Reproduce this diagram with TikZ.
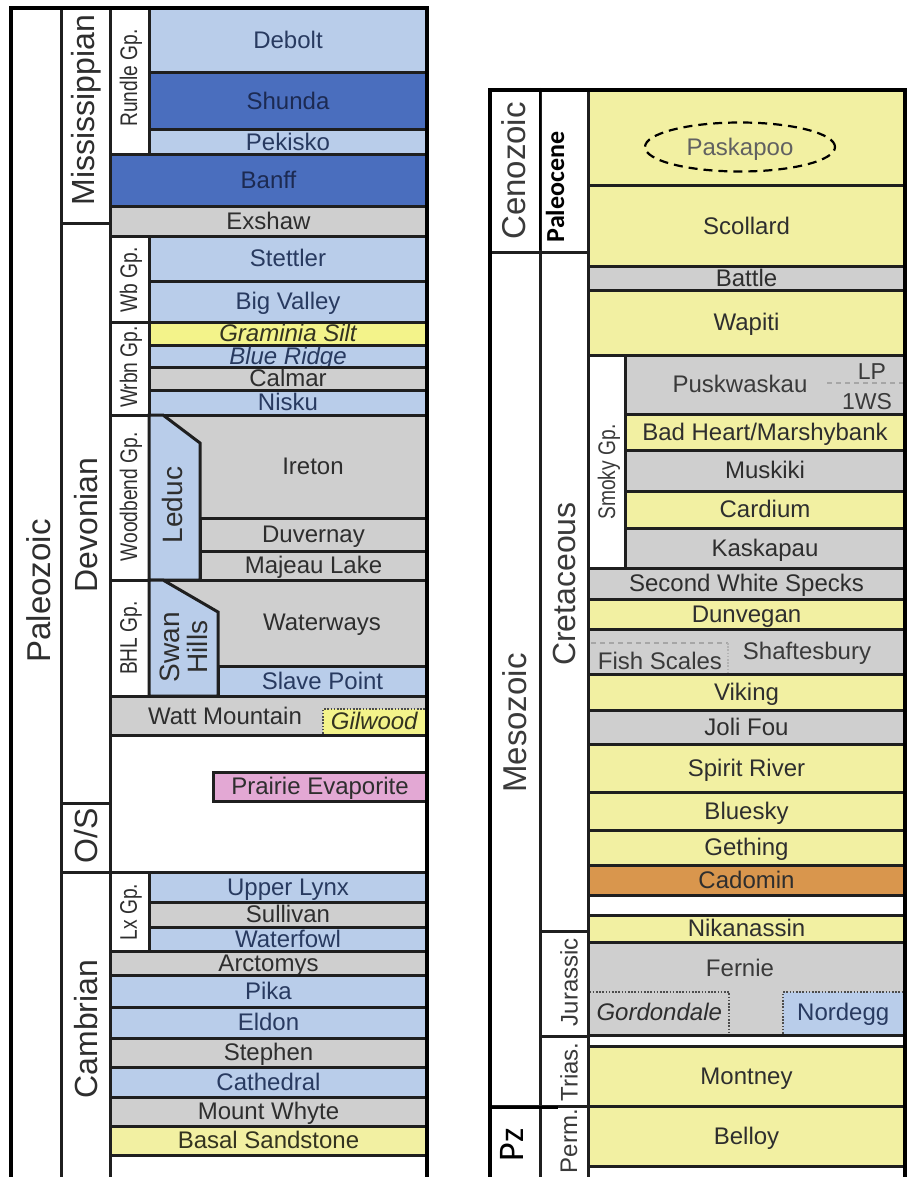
\documentclass[tikz,border=0pt]{standalone}
\usepackage{fontspec}
\setmainfont{Liberation Sans}
\newfontfamily\narrowf[FakeStretch=0.8]{Liberation Sans}
\newfontfamily\calib{Carlito}
\usetikzlibrary{shapes.geometric}
\definecolor{lblue}{HTML}{B9CDEA}
\definecolor{dblue}{HTML}{4A6EBE}
\definecolor{lgray}{HTML}{CFCFCF}
\definecolor{lyel}{HTML}{F2F0A2}
\definecolor{gyel}{HTML}{F3F38A}
\definecolor{pinkc}{HTML}{E3A8D4}
\definecolor{orangec}{HTML}{D9964D}
\definecolor{linec}{HTML}{1F1F1F}
\definecolor{rlinec}{HTML}{252525}
\definecolor{txt}{HTML}{2E2E2E}
\definecolor{rtxt}{HTML}{3A3A3A}
\definecolor{btxt}{HTML}{283A60}
\definecolor{dbtxt}{HTML}{1C2A52}
\definecolor{ytxt}{HTML}{333320}
\newcommand\lay[8][]{%
  \pgfmathsetmacro\lyw{#6-#4}%
  \pgfmathsetmacro\lyh{#7-#5}%
  \node[layer,fill=#3,minimum width=\lyw pt,minimum height=\lyh pt,#1] (#2) at (#4,#5) {#8};}
\begin{document}
\begin{tikzpicture}[x=1pt,y=-1pt,
  layer/.style={draw=linec,line width=3pt,inner sep=0pt,outer sep=0pt,anchor=north west,
    text=txt,font=\fontsize{24}{26}\selectfont,text height=17pt,text depth=1pt},
  vlab/.style={rotate=90,text=txt,font=\fontsize{32}{32}\selectfont,inner sep=0pt},
  elab/.style={vlab,font=\fontsize{33}{33}\selectfont},
  glab/.style={rotate=90,text=txt,font=\narrowf\fontsize{24}{24}\selectfont,inner sep=0pt},
  rlab/.style={rotate=90,text=rtxt,font=\fontsize{24}{24}\selectfont,inner sep=0pt},
  flab/.style={text=txt,font=\fontsize{24}{26}\selectfont,inner sep=0pt,text height=17pt,text depth=1pt},
  frame/.style={draw=black,line width=4.5pt},
  dotb/.style={draw=linec!80,line width=1.2pt,dash pattern=on 1.6pt off 1.6pt},
  dashg/.style={draw=gray!70,line width=1.2pt,dash pattern=on 5pt off 4pt}]
\useasboundingbox (0,0) rectangle (909,1177);
\clip (0,0) rectangle (909,1177);
\fill[white] (0,0) rectangle (909,1177);
% ---------------- left column ----------------
\lay{paleo}{white}{11}{8}{61}{1195}{}
\lay{missi}{white}{61}{8}{110}{223}{}
\lay{devon}{white}{61}{223}{110}{803.5}{}
\lay{os}{white}{61}{803.5}{110}{872}{}
\lay{camb}{white}{61}{872}{110}{1195}{}
\lay{rundle}{white}{110}{8}{149}{155}{}
\lay[text=btxt]{debolt}{lblue}{149}{8}{427}{73}{Debolt}
\lay[text=dbtxt]{shunda}{dblue}{149}{73}{427}{130}{Shunda}
\lay[text=btxt]{pekisko}{lblue}{149}{130}{427}{155}{Pekisko}
\lay[text=dbtxt]{banff}{dblue}{110}{155}{427}{206}{Banff}
\lay{exshaw}{lgray}{110}{206}{427}{236}{Exshaw}
\lay{wbgp}{white}{110}{236}{149}{322}{}
\lay[text=btxt]{stettler}{lblue}{149}{236}{427}{281}{Stettler}
\lay[text=btxt]{bigvalley}{lblue}{149}{281}{427}{322}{Big Valley}
\lay{wrbn}{white}{110}{322}{149}{415}{}
\lay[text=ytxt]{graminia}{gyel}{149}{322}{427}{345}{\itshape Graminia Silt}
\lay[text=btxt]{blueridge}{lblue}{149}{345}{427}{367}{\itshape Blue Ridge}
\lay{calmar}{lgray}{149}{367}{427}{390}{Calmar}
\lay[text=btxt]{nisku}{lblue}{149}{390}{427}{415}{Nisku}
\lay{woodbend}{white}{110}{415}{149}{580}{}
\lay{ireton}{lgray}{149}{415}{427}{518}{}
\lay{duvernay}{lgray}{200}{518}{427}{551}{Duvernay}
\lay{majeau}{lgray}{200}{551}{427}{580}{Majeau Lake}
\draw[draw=linec,line width=3pt,fill=lblue,line join=miter] (149,415) -- (163,415) -- (200,443) -- (200,580) -- (149,580) -- cycle;
\lay{bhl}{white}{110}{580}{149}{696}{}
\lay{waterways}{lgray}{149}{580}{427}{666}{}
\lay[text=btxt]{slave}{lblue}{218}{666}{427}{696}{Slave Point}
\draw[draw=linec,line width=3pt,fill=lblue,line join=miter] (149,580) -- (163,580) -- (218,612) -- (218,696) -- (149,696) -- cycle;
\lay{watt}{lgray}{110}{696}{427}{735}{}
\lay[draw=none,text=ytxt]{gilwood}{gyel}{323}{709}{425.5}{733.5}{\itshape Gilwood}
\draw[dotb] (gilwood.south west) -- (gilwood.north west) -- (gilwood.north east);
\lay{blank1}{white}{110}{735}{427}{872}{}
\lay{prairie}{pinkc}{213}{772}{427}{801}{Prairie Evaporite}
\lay{lx}{white}{110}{872}{149}{951}{}
\lay[text=btxt]{upperlynx}{lblue}{149}{872}{427}{902}{Upper Lynx}
\lay{sullivan}{lgray}{149}{902}{427}{927}{Sullivan}
\lay[text=btxt]{waterfowl}{lblue}{149}{927}{427}{951}{Waterfowl}
\lay{arctomys}{lgray}{110}{951}{427}{975}{Arctomys}
\lay[text=btxt]{pika}{lblue}{110}{975}{427}{1007}{Pika}
\lay[text=btxt]{eldon}{lblue}{110}{1007}{427}{1038}{Eldon}
\lay{stephen}{lgray}{110}{1038}{427}{1067}{Stephen}
\lay[text=btxt]{cathedral}{lblue}{110}{1067}{427}{1097}{Cathedral}
\lay{whyte}{lgray}{110}{1097}{427}{1126}{Mount Whyte}
\lay[text=ytxt]{basal}{lyel}{110}{1126}{427}{1155}{Basal Sandstone}
\lay{blank2}{white}{110}{1155}{427}{1195}{}
% texts not centred in their box
\node[flab] (iretonT) at (313,466) {Ireton};
\node[flab] (waterT) at (322,622) {Waterways};
\node[flab] (wattT) at (225,716) {Watt Mountain};
% vertical labels left
\node[elab] (paleoT) at (38.5,591) {Paleozoic};
\node[vlab] (missiT) at (86,110) {Mississippian};
\node[vlab] (devonT) at (86,525) {Devonian};
\node[vlab] (osT) at (86,836) {O/S};
\node[vlab] (cambT) at (86,1029) {Cambrian};
\node[glab] (rundleT) at (131,78) {Rundle Gp.};
\node[glab] (wbT) at (131,280) {Wb Gp.};
\node[glab] (wrbnT) at (131,367) {Wrbn Gp.};
\node[glab] (woodT) at (131,497) {Woodbend Gp.};
\node[glab] (bhlT) at (131,638) {BHL Gp.};
\node[glab] (lxT) at (131,912) {Lx Gp.};
\node[vlab,font=\fontsize{28}{28}\selectfont] (leducT) at (172.5,505) {Leduc};
\node[vlab,font=\fontsize{28}{28}\selectfont,align=center] (swanT) at (184,647) {Swan\\Hills};
\draw[frame] (11,1190) -- (11,8) -- (427,8) -- (427,1190);
% ---------------- right column ----------------
\begin{scope}[every node/.append style={draw=rlinec,line width=3pt,text=rtxt}]
\lay{ceno}{white}{490}{90}{540}{252}{}
\lay{meso}{white}{490}{252}{540}{1106}{}
\lay{pz}{white}{490}{1106}{540}{1195}{}
\lay{paleoc}{white}{540}{90}{588}{252}{}
\lay{cret}{white}{540}{252}{588}{931}{}
\lay{jura}{white}{540}{931}{588}{1036}{}
\lay{trias}{white}{540}{1036}{588}{1106}{}
\lay{perm}{white}{540}{1106}{588}{1195}{}
\lay{paskapoo}{lyel}{588}{90}{905}{186}{}
\lay{scollard}{lyel}{588}{186}{905}{266}{Scollard}
\lay{battle}{lgray}{588}{266}{905}{290}{Battle}
\lay{wapiti}{lyel}{588}{290}{905}{355}{Wapiti}
\lay{smoky}{white}{588}{355}{625}{568}{}
\lay{puskw}{lgray}{625}{355}{905}{414}{}
\lay{badheart}{lyel}{625}{414}{905}{450}{Bad Heart/Marshybank}
\lay{muskiki}{lgray}{625}{450}{905}{491}{Muskiki}
\lay{cardium}{lyel}{625}{491}{905}{528}{Cardium}
\lay{kaskapau}{lgray}{625}{528}{905}{568}{Kaskapau}
\lay{sws}{lgray}{588}{568}{905}{599}{Second White Specks}
\lay{dunvegan}{lyel}{588}{599}{905}{629}{Dunvegan}
\lay{shaft}{lgray}{588}{629}{905}{674}{}
\lay{viking}{lyel}{588}{674}{905}{710}{Viking}
\lay{joli}{lgray}{588}{710}{905}{744}{Joli Fou}
\lay{spirit}{lyel}{588}{744}{905}{792}{Spirit River}
\lay{bluesky}{lyel}{588}{792}{905}{830}{Bluesky}
\lay{gething}{lyel}{588}{830}{905}{865}{Gething}
\lay{cadomin}{orangec}{588}{865}{905}{895}{Cadomin}
\lay{blank3}{white}{588}{895}{905}{915}{}
\lay{nikan}{lyel}{588}{915}{905}{942}{Nikanassin}
\lay{fernie}{lgray}{588}{942}{905}{1035}{}
\lay{blank4}{white}{588}{1035}{905}{1046}{}
\lay{montney}{lyel}{588}{1046}{905}{1106}{Montney}
\lay{belloy}{lyel}{588}{1106}{905}{1166}{Belloy}
\lay{blank5}{white}{588}{1166}{905}{1195}{}
\end{scope}
\lay[draw=none]{gordon}{lgray}{589.5}{992}{729}{1033.5}{\itshape Gordondale}
\draw[dotb] (gordon.north west) -- (gordon.north east) -- (gordon.south east);
\lay[draw=none,text=btxt]{nordegg}{lblue}{783}{992}{903.5}{1033.5}{Nordegg}
\draw[dotb] (nordegg.south west) -- (nordegg.north west) -- (nordegg.north east);
\node[flab,text=rtxt] (fernieT) at (740,968) {Fernie};
\node[flab,text=rtxt] (puskT) at (740,384) {Puskwaskau};
\node[flab,text=rtxt,font=\fontsize{23}{24}\selectfont] (lpT) at (872,371) {LP};
\node[flab,text=rtxt,font=\fontsize{23}{24}\selectfont] (wsT) at (867,401) {1WS};
\coordinate (lpa) at (827,383);
\coordinate (lpb) at (903,383);
\draw[dashg] (lpa) -- (lpb);
\node[flab,text=rtxt] (shaftT) at (807,651) {Shaftesbury};
\node[flab,text=rtxt] (fishT) at (660,661) {Fish Scales};
\coordinate (fsa) at (591,643);
\coordinate (fsb) at (728,643);
\coordinate (fsc) at (728,672);
\draw[dashg] (fsa) -- (fsb);
\draw[dotb,draw=gray!60] (fsb) -- (fsc);
\node[draw=black,line width=2.2pt,dash pattern=on 9pt off 6pt,ellipse,minimum width=190pt,minimum height=49pt,inner sep=0pt,
  text=black!62,font=\fontsize{24}{26}\selectfont,text height=17pt,text depth=0pt] (pask) at (740,147) {Paskapoo};
% vertical labels right
\node[elab,text=rtxt] (cenoT) at (513.5,171) {Cenozoic};
\node[rotate=90,inner sep=0pt,text=black,font=\calib\bfseries\fontsize{26}{26}\selectfont] (paleocT) at (555,187) {Paleocene};
\node[elab,text=rtxt] (mesoT) at (514.5,723) {Mesozoic};
\node[vlab,text=rtxt] (cretT) at (564.5,584) {Cretaceous};
\node[rlab] (juraT) at (569,982) {Jurassic};
\node[rlab] (triasT) at (569,1072) {Trias.};
\node[rlab] (permT) at (569,1141) {Perm.};
\node[rotate=90,inner sep=0pt,text=black,font=\calib\fontsize{36}{36}\selectfont] (pzT) at (511.5,1145) {Pz};
\node[glab,text=rtxt] (smokyT) at (609,472) {Smoky Gp.};
\draw[draw=black,line width=2.2pt] (540,88) -- (540,250);
\draw[draw=black,line width=3pt] (488,1107) -- (558,1107);
\draw[frame,line width=4pt] (490,1190) -- (490,90) -- (905,90) -- (905,1190);
\end{tikzpicture}
\end{document}
